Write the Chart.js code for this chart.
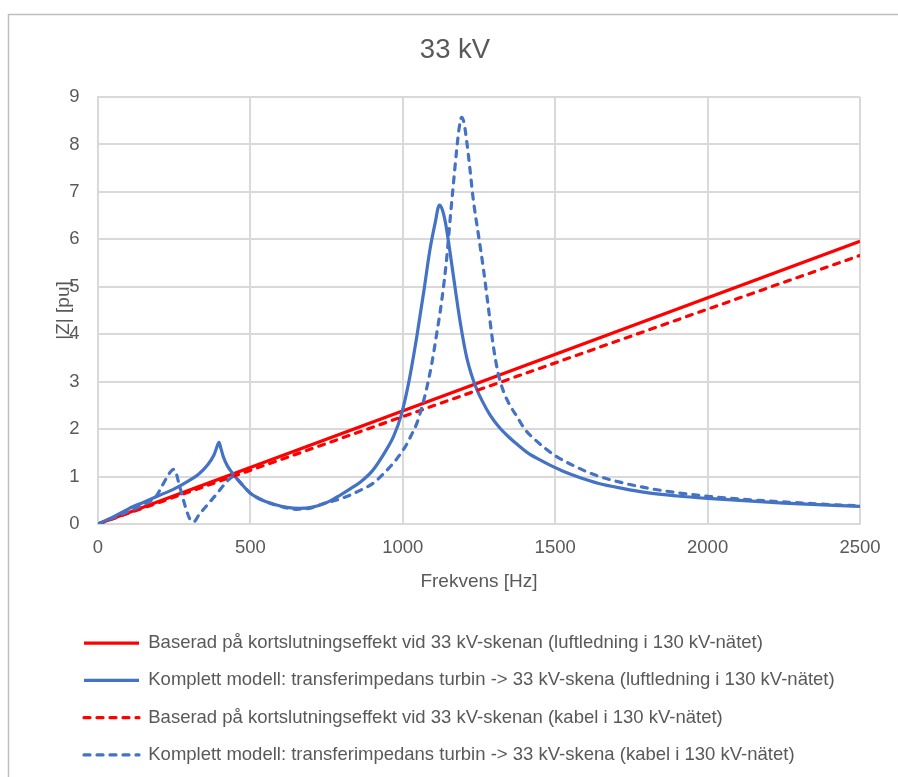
<!DOCTYPE html>
<html><head><meta charset="utf-8">
<script src="https://cdn.jsdelivr.net/npm/chart.js@4"></script>
<style>html,body{margin:0;padding:0;background:#fff}</style>
</head><body>
<canvas id="c" width="898" height="777"></canvas>
<script>
// ---- data ----
const chartTitle = '33 kV';
const xAxisTitle = 'Frekvens [Hz]';
const yAxisTitle = '|Z| [pu]';
const xTickLabels = ['0', '500', '1000', '1500', '2000', '2500'];
const yTickLabels = ['0', '1', '2', '3', '4', '5', '6', '7', '8', '9'];
const seriesNames = [
  'Baserad på kortslutningseffekt vid 33 kV-skenan (luftledning i 130 kV-nätet)',
  'Komplett modell: transferimpedans turbin -> 33 kV-skena (luftledning i 130 kV-nätet)',
  'Baserad på kortslutningseffekt vid 33 kV-skenan (kabel i 130 kV-nätet)',
  'Komplett modell: transferimpedans turbin -> 33 kV-skena (kabel i 130 kV-nätet)'
];

const freqBase = [0, 2500];
const impBaseLuft = [0, 5.96];
const impBaseKabel = [0, 5.66];

const freqLuft = [0, 50, 100, 150, 200, 250, 300, 330, 360, 380, 390, 397, 403, 411, 425, 444, 470, 500, 540, 580, 620, 660, 700, 750, 795, 830, 860, 900, 940, 970, 995, 1020, 1046, 1070, 1089, 1106, 1120, 1130, 1140, 1150, 1160, 1170, 1180, 1195, 1210, 1225, 1242, 1260, 1286, 1315, 1345, 1375, 1410, 1450, 1483, 1530, 1580, 1640, 1720, 1800, 1900, 2000, 2250, 2500];
const impLuft = [0, 0.15, 0.32, 0.46, 0.60, 0.74, 0.92, 1.05, 1.25, 1.45, 1.62, 1.72, 1.60, 1.42, 1.22, 1.05, 0.85, 0.65, 0.50, 0.41, 0.35, 0.33, 0.35, 0.45, 0.61, 0.75, 0.88, 1.12, 1.5, 1.85, 2.3, 3.0, 3.95, 4.95, 5.78, 6.34, 6.72, 6.62, 6.35, 5.95, 5.5, 5.05, 4.6, 4.0, 3.5, 3.15, 2.85, 2.6, 2.3, 2.05, 1.85, 1.68, 1.5, 1.35, 1.24, 1.1, 0.98, 0.86, 0.75, 0.66, 0.59, 0.54, 0.44, 0.37];

const freqKabel = [0, 50, 100, 150, 190, 210, 225, 238, 248, 256, 264, 280, 295, 305, 315, 330, 345, 365, 389, 410, 428, 445, 470, 500, 540, 600, 650, 700, 740, 780, 816, 860, 903, 940, 980, 1010, 1030, 1046, 1062, 1078, 1095, 1111, 1128, 1144, 1155, 1165, 1177, 1185, 1193, 1201, 1210, 1220, 1231, 1248, 1264, 1280, 1297, 1312, 1330, 1350, 1375, 1400, 1430, 1470, 1505, 1560, 1636, 1720, 1800, 1900, 2008, 2120, 2238, 2370, 2500];
const impKabel = [0, 0.13, 0.27, 0.41, 0.58, 0.80, 0.97, 1.10, 1.15, 1.08, 0.89, 0.51, 0.20, 0.07, 0.05, 0.18, 0.30, 0.45, 0.63, 0.80, 0.93, 1.0, 0.85, 0.65, 0.50, 0.37, 0.31, 0.34, 0.43, 0.50, 0.58, 0.71, 0.86, 1.08, 1.37, 1.65, 1.9, 2.12, 2.45, 2.85, 3.38, 4.0, 4.72, 5.6, 6.4, 7.1, 7.9, 8.35, 8.57, 8.45, 8.05, 7.5, 6.85, 6.1, 5.4, 4.6, 3.75, 3.2, 2.8, 2.52, 2.26, 2.0, 1.8, 1.58, 1.42, 1.23, 1.02, 0.87, 0.76, 0.66, 0.58, 0.52, 0.47, 0.42, 0.38];

// ---- chart ----
const RED = '#FF0000';
const BLUE = '#4472C4';
const TXT = '#595959';
const GRID = '#d9d9d9';
const FONT = "'Liberation Sans', Arial, sans-serif";
Chart.defaults.font.family = FONT;
Chart.defaults.color = TXT;

const pts = (xs, ys) => xs.map((x, i) => ({x: x, y: ys[i]}));

const framePlugin = {
  id: 'frame',
  beforeDraw(chart) {
    const c = chart.ctx;
    c.save();
    c.fillStyle = '#ffffff';
    c.fillRect(0, 0, chart.width, chart.height);
    c.strokeStyle = '#bfbfbf';
    c.lineWidth = 1.5;
    c.beginPath();
    c.moveTo(8.5, chart.height + 2);
    c.lineTo(8.5, 14.5);
    c.lineTo(chart.width + 2, 14.5);
    c.stroke();
    c.restore();
  }
};
const legendShift = {
  id: 'legendShift',
  afterLayout(chart) {
    if (chart.legend) { chart.legend.left += 15.2; chart.legend.right += 15.2; }
  }
};

new Chart(document.getElementById('c'), {
  type: 'line',
  data: {
    datasets: [
      {label: seriesNames[0], data: pts(freqBase, impBaseLuft), borderColor: RED, backgroundColor: RED, borderWidth: 3.2, order: 4},
      {label: seriesNames[1], data: pts(freqLuft, impLuft), borderColor: BLUE, backgroundColor: BLUE, borderWidth: 3.2, order: 3, cubicInterpolationMode: 'monotone'},
      {label: seriesNames[2], data: pts(freqBase, impBaseKabel), borderColor: RED, backgroundColor: RED, borderWidth: 3.2, borderDash: [6, 7], borderCapStyle: 'round', order: 2},
      {label: seriesNames[3], data: pts(freqKabel, impKabel), borderColor: BLUE, backgroundColor: BLUE, borderWidth: 3.2, borderDash: [6, 7], borderCapStyle: 'round', order: 1, cubicInterpolationMode: 'monotone'}
    ]
  },
  options: {
    responsive: false,
    animation: false,
    events: [],
    elements: {
      point: {radius: 0, hoverRadius: 0},
      line: {borderWidth: 3.2, fill: false}
    },
    layout: {padding: {left: 50, right: 38, top: 0, bottom: 2.8}},
    scales: {
      x: {
        type: 'linear', min: 0, max: 2500,
        ticks: {stepSize: 500, font: {size: 18.5}, color: TXT, padding: 13, maxRotation: 0,
          callback: (v) => { const i = xTickLabels.indexOf(String(v)); return i >= 0 ? xTickLabels[i] : ''; }},
        grid: {color: GRID, lineWidth: 2, drawTicks: false},
        border: {color: GRID, width: 2},
        title: {display: true, text: xAxisTitle, font: {size: 19}, color: TXT, padding: {top: 0, bottom: 21.5}},
        afterFit: (s) => { s.height = 91; }
      },
      y: {
        type: 'linear', min: 0, max: 9,
        ticks: {stepSize: 1, font: {size: 18.5}, color: TXT, padding: 18.5,
          callback: (v) => { const i = yTickLabels.indexOf(String(v)); return i >= 0 ? yTickLabels[i] : ''; }},
        grid: {color: GRID, lineWidth: 2, drawTicks: false},
        border: {color: GRID, width: 2},
        title: {display: true, text: yAxisTitle, font: {size: 19}, color: TXT, padding: {top: 2, bottom: 0}},
        afterFit: (s) => { s.width = 48; }
      }
    },
    plugins: {
      title: {display: true, text: chartTitle, font: {size: 27.5, weight: 'normal'}, color: TXT, padding: {top: 33.5, bottom: 30.5}},
      legend: {
        position: 'bottom', align: 'start',
        labels: {
          usePointStyle: true, pointStyle: 'line', pointStyleWidth: 55, font: {size: 18.5}, color: TXT, padding: 18.8,
          generateLabels: (chart) => chart.data.datasets.map((ds, i) => ({
            text: ds.label,
            datasetIndex: i,
            fillStyle: ds.borderColor,
            strokeStyle: ds.borderColor,
            lineWidth: 3.2,
            lineDash: ds.borderDash || [],
            lineCap: ds.borderDash ? 'round' : 'butt',
            pointStyle: 'line',
            hidden: false,
            fontColor: TXT
          })),
          sort: (a, b) => a.datasetIndex - b.datasetIndex
        }
      },
      tooltip: {enabled: false}
    }
  },
  plugins: [framePlugin, legendShift]
});
</script>
</body></html>
